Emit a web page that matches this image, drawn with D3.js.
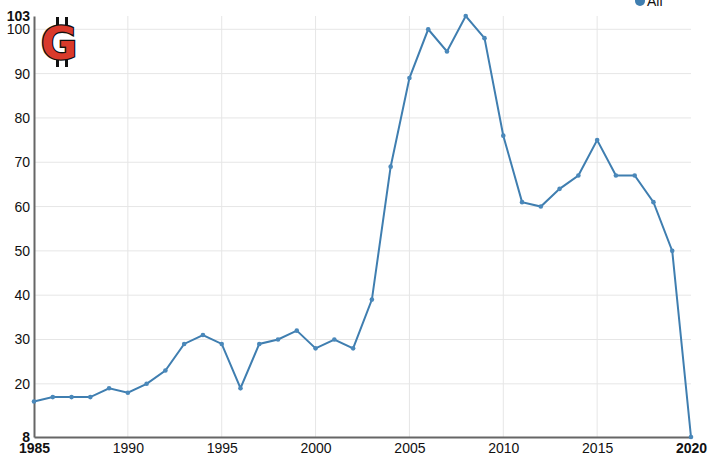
<!DOCTYPE html>
<html><head><meta charset="utf-8">
<script src="https://cdn.jsdelivr.net/npm/d3@7"></script>
<style>body{margin:0;background:#fff}svg{display:block;font-family:"Liberation Sans",Arial,sans-serif}</style>
</head><body><svg id="c" width="715" height="469"></svg>
<script>
const years = d3.range(1985, 2021);
const values = [16,17,17,17,19,18,20,23,29,31,29,19,29,30,32,28,30,28,39,69,89,100,95,103,98,76,61,60,64,67,75,67,67,61,50,8];
const yTicks = [8,20,30,40,50,60,70,80,90,100,103];
const xTicks = [1985,1990,1995,2000,2005,2010,2015,2020];
const seriesName = "All";

const svg = d3.select("#c");
const m = {l:34, r:24, t:16, b:32};
const W = 715, H = 469;
const x = d3.scaleLinear().domain([1985,2020]).range([m.l, W-m.r]);
const y = d3.scaleLinear().domain([8,103]).range([H-m.b, m.t]);

// grid
const g = svg.append("g");
g.selectAll("line.h").data(yTicks.filter(t=>t!==8 && t!==103)).join("line")
  .attr("x1", m.l).attr("x2", W-m.r).attr("y1", d=>y(d)).attr("y2", d=>y(d))
  .attr("stroke", "#e6e6e6").attr("stroke-width", 1);
g.selectAll("line.v").data(xTicks.filter(t=>t!==1985 && t!==2020)).join("line")
  .attr("y1", m.t).attr("y2", H-m.b).attr("x1", d=>x(d)).attr("x2", d=>x(d))
  .attr("stroke", "#e6e6e6").attr("stroke-width", 1);

// axes
const yAxis = d3.axisLeft(y).tickValues(yTicks).tickSize(0).tickPadding(4);
const ya = svg.append("g").attr("transform", `translate(${m.l},0)`).call(yAxis);
ya.select(".domain").attr("stroke", "#666").attr("stroke-width", 2);
ya.selectAll("text").attr("font-size", 14).attr("fill", "#111")
  .attr("font-family", "Liberation Sans, Arial, sans-serif")
  .attr("font-weight", d => (d===8||d===103) ? "bold" : "normal");

const xAxis = d3.axisBottom(x).tickValues(xTicks).tickFormat(d3.format("d")).tickSize(0).tickPadding(6);
const xa = svg.append("g").attr("transform", `translate(0,${H-m.b})`).call(xAxis);
xa.select(".domain").attr("stroke", "#666").attr("stroke-width", 2);
xa.selectAll("text").attr("font-size", 14).attr("fill", "#111")
  .attr("font-family", "Liberation Sans, Arial, sans-serif")
  .attr("font-weight", d => (d===1985||d===2020) ? "bold" : "normal");

// line
const data = years.map((yr,i)=>({yr, v: values[i]}));
svg.append("path").datum(data)
  .attr("fill","none").attr("stroke","#3f7eb0").attr("stroke-width",2)
  .attr("d", d3.line().x(d=>x(d.yr)).y(d=>y(d.v)));
svg.selectAll("circle.pt").data(data).join("circle")
  .attr("class","pt").attr("cx", d=>x(d.yr)).attr("cy", d=>y(d.v)).attr("r", 2.3)
  .attr("fill","#4a88ba");

// legend
const lg = svg.append("g").attr("transform","translate(640,1)");
lg.append("circle").attr("r",5).attr("fill","#3f7eb0");
lg.append("text").attr("x",7).attr("y",5).attr("font-size",14).attr("fill","#111").text(seriesName);

// logo
const logo = svg.append("g").attr("transform","translate(59,43)");
[-1.5,7.5].forEach(dx=>{
  logo.append("line").attr("x1",dx).attr("x2",dx).attr("y1",-26).attr("y2",-15).attr("stroke","#111").attr("stroke-width",3);
  logo.append("line").attr("x1",dx).attr("x2",dx).attr("y1",16).attr("y2",24).attr("stroke","#111").attr("stroke-width",3);
});
logo.append("text").attr("text-anchor","middle").attr("y",16).attr("font-size",44).attr("font-weight","bold")
  .attr("font-family","DejaVu Sans, sans-serif")
  .attr("fill","#d93a2b").attr("stroke","#111").attr("stroke-width",2.6).attr("paint-order","stroke").text("G");
</script></body></html>
